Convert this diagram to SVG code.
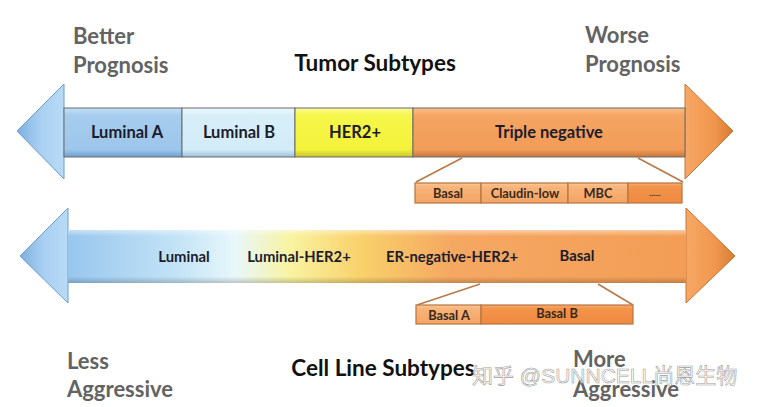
<svg xmlns="http://www.w3.org/2000/svg" width="763" height="407" viewBox="0 0 763 407">
<defs>
<linearGradient id="gBlueHead" x1="0" y1="0" x2="1" y2="0"><stop offset="0" stop-color="#7fb0e0"/><stop offset="0.5" stop-color="#a9d0f2"/><stop offset="1" stop-color="#b9dbf6"/></linearGradient>
<linearGradient id="gOrangeHead" x1="0" y1="0" x2="1" y2="0"><stop offset="0" stop-color="#f7a865"/><stop offset="0.6" stop-color="#f0964d"/><stop offset="1" stop-color="#d97c34"/></linearGradient>
<linearGradient id="gLumA" x1="0" y1="0" x2="0" y2="1"><stop offset="0" stop-color="#c4e0f7"/><stop offset="0.15" stop-color="#a6cdee"/><stop offset="0.85" stop-color="#9cc6ea"/><stop offset="1" stop-color="#6f9fcf"/></linearGradient>
<linearGradient id="gLumB" x1="0" y1="0" x2="0" y2="1"><stop offset="0" stop-color="#eef8fd"/><stop offset="0.15" stop-color="#d8eff9"/><stop offset="0.85" stop-color="#d2ecf8"/><stop offset="1" stop-color="#9cc0da"/></linearGradient>
<linearGradient id="gHer" x1="0" y1="0" x2="0" y2="1"><stop offset="0" stop-color="#fbfb9a"/><stop offset="0.15" stop-color="#f6f64a"/><stop offset="0.85" stop-color="#f3f23a"/><stop offset="1" stop-color="#c4c22a"/></linearGradient>
<linearGradient id="gTN" x1="0" y1="0" x2="0" y2="1"><stop offset="0" stop-color="#fbc08a"/><stop offset="0.15" stop-color="#f5a462"/><stop offset="0.85" stop-color="#f29c58"/><stop offset="1" stop-color="#c7763a"/></linearGradient>
<linearGradient id="gSub" x1="0" y1="0" x2="0" y2="1"><stop offset="0" stop-color="#fbc896"/><stop offset="0.2" stop-color="#f8b47a"/><stop offset="1" stop-color="#f3a464"/></linearGradient>
<linearGradient id="gSubDark" x1="0" y1="0" x2="0" y2="1"><stop offset="0" stop-color="#f9ac70"/><stop offset="0.2" stop-color="#f3934a"/><stop offset="1" stop-color="#ef8a40"/></linearGradient>
<linearGradient id="gBot" x1="68" y1="0" x2="686" y2="0" gradientUnits="userSpaceOnUse"><stop offset="0" stop-color="#98c6ee"/><stop offset="0.18" stop-color="#c4e4f6"/><stop offset="0.27" stop-color="#e8f7fb"/><stop offset="0.36" stop-color="#f9f3a0"/><stop offset="0.48" stop-color="#f9cf6a"/><stop offset="0.62" stop-color="#f5a862"/><stop offset="1" stop-color="#f39d56"/></linearGradient>
<linearGradient id="gShade" x1="0" y1="0" x2="0" y2="1"><stop offset="0" stop-color="#ffffff" stop-opacity="0.45"/><stop offset="0.12" stop-color="#ffffff" stop-opacity="0"/><stop offset="0.88" stop-color="#000000" stop-opacity="0"/><stop offset="1" stop-color="#000000" stop-opacity="0.2"/></linearGradient>
</defs>
<style>
.lbl{font-family:Lato,"Liberation Sans",sans-serif;font-weight:bold;font-size:16.5px;fill:#1c1c2c;text-anchor:middle}
.lbl2{font-family:Lato,"Liberation Sans",sans-serif;font-weight:bold;font-size:14.8px;fill:#1c1c2c;text-anchor:middle}
.sub{font-family:Lato,"Liberation Sans",sans-serif;font-weight:bold;font-size:12.8px;fill:#3a2a1a;text-anchor:middle}
.gray{font-family:Lato,"Liberation Sans",sans-serif;font-weight:bold;font-size:22px;fill:#636363}
.title{font-family:Lato,"Liberation Sans",sans-serif;font-weight:bold;font-size:22.5px;fill:#111;text-anchor:middle}
.seg{stroke:#6a6a6a;stroke-width:1}
.sbox{stroke:#b8743e;stroke-width:1.2}
.conn{stroke:#b87a48;stroke-width:1.6;fill:none}
</style>

<g id="top-arrow">
<polygon points="17,131 64,84 64,179" fill="url(#gBlueHead)" stroke="#6d9cc8" stroke-width="1"/>
<polygon points="733,131 685,84 685,179" fill="url(#gOrangeHead)" stroke="#c77432" stroke-width="1"/>
</g>
<g id="luminal-a"><rect class="seg" x="64" y="108" width="118" height="49" fill="url(#gLumA)"/><text class="lbl" x="127" y="138">Luminal A</text></g>
<g id="luminal-b"><rect class="seg" x="182" y="108" width="113" height="49" fill="url(#gLumB)"/><text class="lbl" x="239" y="138">Luminal B</text></g>
<g id="her2"><rect class="seg" x="295" y="108" width="118" height="49" fill="url(#gHer)"/><text class="lbl" x="355" y="138">HER2+</text></g>
<g id="triple-negative"><rect class="seg" x="413" y="108" width="272" height="49" fill="url(#gTN)"/><text class="lbl" x="549" y="138">Triple negative</text></g>

<g id="connectors">
<line class="conn" x1="462" y1="158" x2="416" y2="182"/>
<line class="conn" x1="638" y1="158" x2="683" y2="182"/>
<line class="conn" x1="480" y1="284" x2="417" y2="305"/>
<line class="conn" x1="598" y1="284" x2="633" y2="305"/>
</g>

<g id="basal"><rect class="sbox" x="415" y="183" width="66" height="20" fill="url(#gSub)"/><text class="sub" x="448" y="198">Basal</text></g>
<g id="claudin-low"><rect class="sbox" x="481" y="183" width="87" height="20" fill="url(#gSub)"/><text class="sub" x="525" y="198">Claudin-low</text></g>
<g id="mbc"><rect class="sbox" x="568" y="183" width="60" height="20" fill="url(#gSub)"/><text class="sub" x="598" y="198">MBC</text></g>
<g id="etc"><rect class="sbox" x="628" y="183" width="54" height="20" fill="url(#gSubDark)"/><text class="sub" x="655" y="196" style="font-size:8px">......</text></g>

<g id="bottom-arrow">
<polygon points="20,256 68,208 68,303" fill="url(#gBlueHead)" stroke="#6d9cc8" stroke-width="1"/>
<polygon points="735,256 686,208 686,303" fill="url(#gOrangeHead)" stroke="#c77432" stroke-width="1"/>
<rect x="68" y="230" width="618" height="53" fill="url(#gBot)"/>
<rect x="68" y="230" width="618" height="53" fill="url(#gShade)"/>
<text class="lbl2" x="184" y="262">Luminal</text>
<text class="lbl2" x="299" y="262">Luminal-HER2+</text>
<text class="lbl2" x="452" y="262">ER-negative-HER2+</text>
<text class="lbl2" x="577" y="261">Basal</text>
</g>

<g id="basal-a"><rect class="sbox" x="416" y="305" width="65" height="19" fill="url(#gSub)"/><text class="sub" x="449" y="320">Basal A</text></g>
<g id="basal-b"><rect class="sbox" x="481" y="305" width="152" height="19" fill="url(#gSubDark)"/><text class="sub" x="557" y="318">Basal B</text></g>

<g id="labels">
<text class="gray" x="73" y="44">Better</text>
<text class="gray" x="73" y="73">Prognosis</text>
<text class="title" x="375" y="71">Tumor Subtypes</text>
<text class="gray" x="585" y="43">Worse</text>
<text class="gray" x="585" y="72">Prognosis</text>
<text class="gray" x="67" y="369">Less</text>
<text class="gray" x="67" y="397">Aggressive</text>
<text class="title" x="383" y="376">Cell Line Subtypes</text>
<text class="gray" x="573" y="367">More</text>
<text class="gray" x="573" y="397">Aggressive</text>
<text x="472" y="383" style="font-family:'Liberation Sans','Noto Sans CJK SC',sans-serif;font-size:21px;fill:#ffffff;fill-opacity:0.7;stroke:#a0a0a0;stroke-width:0.6">知乎 @SUNNCELL尚恩生物</text>
</g>
</svg>
